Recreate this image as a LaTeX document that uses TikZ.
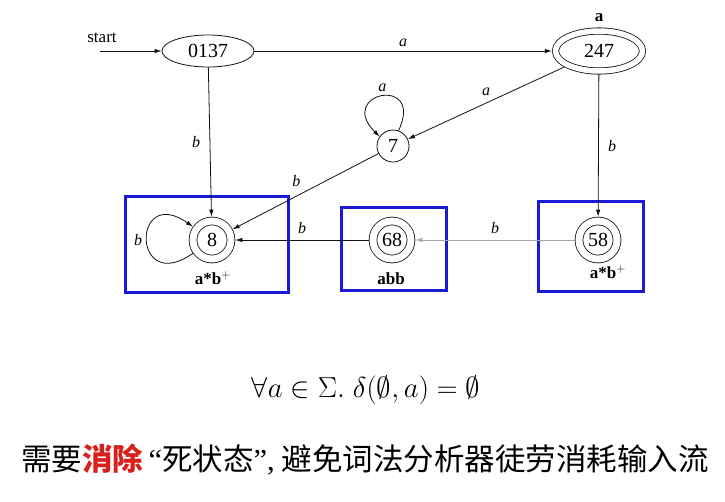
\documentclass[tikz,border=0pt]{standalone}
\usepackage{fontspec}
\setmainfont{Liberation Serif}
\newfontfamily\cjk{Noto Sans CJK SC}
\usepackage{xcolor}
\usetikzlibrary{arrows.meta,positioning,shapes.geometric}
\definecolor{boxblue}{HTML}{1A1AD4}
\definecolor{dfaink}{HTML}{111111}
\definecolor{deadred}{HTML}{D8201C}
\newcommand{\sz}[1]{\fontsize{#1}{#1}\selectfont}

\begin{document}
\begin{tikzpicture}[x=1pt, y=-1pt, font=\sz{20}, draw=dfaink,
  st/.style={ellipse, draw, line width=0.8pt, minimum width=92pt, minimum height=32pt, inner sep=0pt},
  accst/.style={ellipse, draw, line width=0.8pt, double, double distance=5.5pt,
                minimum width=87pt, minimum height=40pt, inner sep=0pt, outer sep=3.6pt},
  plain/.style={circle, draw, line width=0.8pt, minimum size=32pt, inner sep=0pt},
  fin/.style={circle, draw, line width=0.8pt, double, double distance=7pt,
              minimum size=38pt, inner sep=0pt, outer sep=4.3pt},
  grp/.style={draw=boxblue, line width=3pt, inner sep=0pt},
  edge/.style={-{Latex[length=7pt, width=4.5pt]}, line width=0.8pt},
  elbl/.style={font=\sz{16}\itshape},
  lbl/.style={font=\sz{17}\bfseries}]
\useasboundingbox (0,0) rectangle (725,501);
% blue groups
\node[grp, minimum width=163pt, minimum height=96pt] (g8)  at (206.5,244) {};
\node[grp, minimum width=105pt, minimum height=83pt] (g68) at (393.5,248.5) {};
\node[grp, minimum width=105pt, minimum height=90pt] (g58) at (590.5,246) {};
% states
\node[st]     (s0137) at (208,51)  {0137};
\node[accst]  (s247)  at (599,51)  {247};
\node[plain]  (s7)    at (393,146) {7};
\node[fin]    (s8)    at (212,240) {8};
\node[fin]    (s68)   at (392,240) {68};
\node[fin]    (s58)   at (598,240) {58};
\coordinate[left=108pt of s0137.center] (start);
\node[font=\sz{17}, above=5pt of start, xshift=2pt] {start};
\node[lbl, above=2pt of s247] {a};
\node[lbl] at (213,278) {a*b$^{+}$};
\node[lbl] at (391,279) {abb};
\node[lbl] at (608,272) {a*b$^{+}$};
% transitions
\draw[edge] (start) -- (s0137);
\draw[edge] (s0137) -- node[elbl, above=1pt] {a} (s247);
\draw[edge] (s0137) -- node[elbl, left=6pt] {b} (s8);
\draw[edge] (s247) -- node[elbl, above=4pt] {a} (s7);
\draw[edge] (s7) -- node[elbl, above left=2pt] {b} (s8);
\draw[edge] (s247) -- node[elbl, right=6pt] {b} (s58);
\draw[edge, draw=gray!70] (s58) -- node[elbl, above=3pt] {b} (s68);
\draw[edge] (s68) -- node[elbl, above=3pt] {b} (s8);
% loops (y axis points down, so angles are mirrored)
\draw[edge] (s7.70) .. controls +(-65:62) and +(-135:62) .. node[elbl, above=1pt] {a} (s7.145);
\draw[edge] (s8.215) .. controls +(145:75) and +(215:75) .. node[elbl, left=1pt] {b} (s8.145);
% bottom lines
\node[scale=1.16] (fml) at (366,390) {\sz{24.88}$\forall a \in \Sigma.\; \delta(\emptyset, a) = \emptyset$};
\node (note) at (365,460) {\sz{30.5}\cjk 需要{\color{deadred}\bfseries 消除}\,{\rmfamily“}死状态{\rmfamily”,} 避免词法分析器徒劳消耗输入流};
\end{tikzpicture}
\end{document}
